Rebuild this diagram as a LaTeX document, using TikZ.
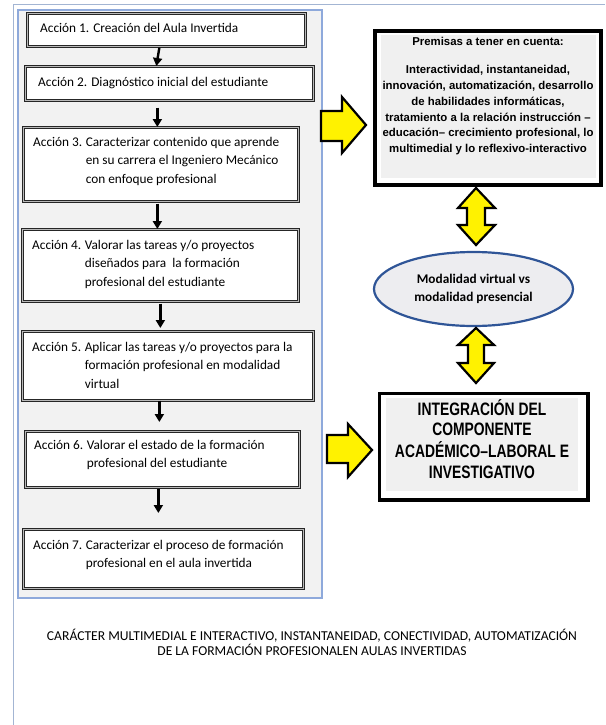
\documentclass[tikz,border=0pt]{standalone}
\usepackage{fontspec}
\setmainfont{Carlito}
\newfontfamily\arialf{Liberation Sans}
\newfontfamily\arialn[FakeStretch=0.77]{Liberation Sans}
\usetikzlibrary{arrows.meta,shapes.geometric}
\definecolor{panelfill}{HTML}{F2F2F2}
\definecolor{panelline}{HTML}{8EA9DB}
\definecolor{frameline}{HTML}{A3B5D3}
\definecolor{ellline}{HTML}{2F5597}
\definecolor{ellfill}{HTML}{EDEDF0}
\definecolor{boxgray}{HTML}{F0F0F0}
\begin{document}
\begin{tikzpicture}[x=1pt,y=-1pt,
  actbox/.style={draw=black!85, double=gray!55, double distance=1.4pt, line width=0.7pt, fill=white, rectangle, inner sep=0pt, anchor=north west},
  acttext/.style={anchor=base west, inner sep=0pt, font=\fontsize{13.3}{18.5}\selectfont},
  blk/.style={line width=2.4pt, -{Triangle[width=9pt,length=8pt]}},
  yarrow/.style={fill=yellow, draw=black, line width=2.2pt, line join=miter},
  bigbox/.style={draw=black, fill=white, rectangle, inner sep=0pt, anchor=north west},
  ctext/.style={anchor=base, inner sep=0pt},
]
\useasboundingbox (0,0) rectangle (605,725);
% outer frame lines
\draw[frameline, line width=1pt] (13,725) -- (13,5) -- (605,5);
% panel
\draw[panelline, fill=panelfill, line width=1.2pt] (18,10) rectangle (322,598);

% action boxes
\node[actbox, minimum width=278pt, minimum height=33pt] (b1) at (27,13) {};
\node[actbox, minimum width=288pt, minimum height=34pt] (b2) at (25,66) {};
\node[actbox, minimum width=275pt, minimum height=74pt] (b3) at (23,127) {};
\node[actbox, minimum width=276pt, minimum height=72pt] (b4) at (22,229) {};
\node[actbox, minimum width=291pt, minimum height=69pt] (b5) at (22,331) {};
\node[actbox, minimum width=274pt, minimum height=56pt] (b6) at (25,431) {};
\node[actbox, minimum width=280pt, minimum height=59pt] (b7) at (23,529) {};

\node[acttext] (t1) at (40,32.5) {Acción 1. Creación del Aula Invertida};
\node[acttext] (t2) at (38,86) {Acción 2. Diagnóstico inicial del estudiante};
\node[acttext] (t3) at (33,146) {\begin{tabular}[t]{@{}l@{\hspace{3.5pt}}l@{}}Acción 3. & Caracterizar contenido que aprende\\ & en su carrera el Ingeniero Mecánico\\ & con enfoque profesional\end{tabular}};
\node[acttext] (t4) at (32,249) {\begin{tabular}[t]{@{}l@{\hspace{3.5pt}}l@{}}Acción 4. & Valorar las tareas y/o proyectos\\ & diseñados para\ \ la formación\\ & profesional del estudiante\end{tabular}};
\node[acttext] (t5) at (32,351) {\begin{tabular}[t]{@{}l@{\hspace{3.5pt}}l@{}}Acción 5. & Aplicar las tareas y/o proyectos para la\\ & formación profesional en modalidad\\ & virtual\end{tabular}};
\node[acttext] (t6) at (34,449) {\begin{tabular}[t]{@{}l@{\hspace{3.5pt}}l@{}}Acción 6. & Valorar el estado de la formación\\ & profesional del estudiante\end{tabular}};
\node[acttext] (t7) at (33,549) {\begin{tabular}[t]{@{}l@{\hspace{3.5pt}}l@{}}Acción 7. & Caracterizar el proceso de formación\\ & profesional en el aula invertida\end{tabular}};

% black arrows
\draw[blk] ([xshift=-7pt,yshift=-1pt]b1.south) -- ([xshift=-13pt]b2.north);
\draw[blk] ([xshift=-12pt,yshift=-7pt]b2.south) -- ([xshift=-3.5pt]b3.north);
\draw[blk] ([xshift=-3.5pt,yshift=-2pt]b3.south) -- ([xshift=-3pt]b4.north);
\draw[blk] ([yshift=-2pt]b4.south) -- ([xshift=-7.5pt,yshift=3pt]b5.north);
\draw[blk] ([xshift=-8.5pt]b5.south) -- ([xshift=-3pt,yshift=9pt]b6.north);
\draw[blk] ([xshift=-4pt,yshift=-1pt]b6.south) -- ([xshift=-5pt,yshift=16pt]b7.north);

% premisas box
\node[bigbox, line width=4pt, minimum width=226pt, minimum height=154pt] (prem) at (373,29) {};
\fill[boxgray] (381,35) rectangle (596,178);
\node[ctext, font=\arialf\bfseries\fontsize{11.4}{15.7}\selectfont] (ptext) at (488,46) {\begin{tabular}[t]{@{}c@{}}Premisas a tener en cuenta:\\[12.3pt]
Interactividad, instantaneidad,\\
innovación, automatización, desarrollo\\
de habilidades informáticas,\\
tratamiento a la relación instrucción –\\
educación– crecimiento profesional, lo\\
multimedial y lo reflexivo-interactivo\end{tabular}};

% ellipse
\node[ellipse, draw=ellline, line width=2.2pt, fill=ellfill, minimum width=199pt, minimum height=74pt, inner sep=0pt, align=center, font=\bfseries\fontsize{13.3}{18}\selectfont] (ell) at (473.5,289) {Modalidad virtual vs\\modalidad presencial};

% integracion box
\node[bigbox, line width=3.5pt, minimum width=208.5pt, minimum height=106.5pt] (integ) at (377.75,391.75) {};
\fill[boxgray] (386,398) rectangle (578,491);
\node[ctext, font=\arialn\bfseries\fontsize{18}{20.7}\selectfont] (itext) at (482,415) {\begin{tabular}[t]{@{}c@{}}INTEGRACIÓN DEL\\COMPONENTE\\ACADÉMICO–LABORAL E\\INVESTIGATIVO\end{tabular}};

% yellow arrows
\draw[yarrow] (321,111) -- (342,111) -- (342,97) -- (366,125) -- (342,153) -- (342,141) -- (321,141) -- cycle;
\draw[yarrow] (327,435) -- (348,435) -- (348,424) -- (372,450) -- (348,477) -- (348,463) -- (327,463) -- cycle;
\draw[yarrow] (476,188) -- (495,208) -- (485,208) -- (485,225) -- (495,225) -- (476,245) -- (458,225) -- (467,225) -- (467,208) -- (458,208) -- cycle;
\draw[yarrow] (476,328) -- (494,345) -- (484,345) -- (484,363) -- (494,363) -- (476,383) -- (458,363) -- (468,363) -- (468,345) -- (458,345) -- cycle;

% bottom caption
\node[ctext, font=\fontsize{13.6}{13.3}\selectfont] (cap) at (312,640) {\begin{tabular}[t]{@{}c@{}}CARÁCTER MULTIMEDIAL E INTERACTIVO, INSTANTANEIDAD, CONECTIVIDAD, AUTOMATIZACIÓN\\DE LA FORMACIÓN PROFESIONALEN AULAS INVERTIDAS\end{tabular}};
\end{tikzpicture}
\end{document}
